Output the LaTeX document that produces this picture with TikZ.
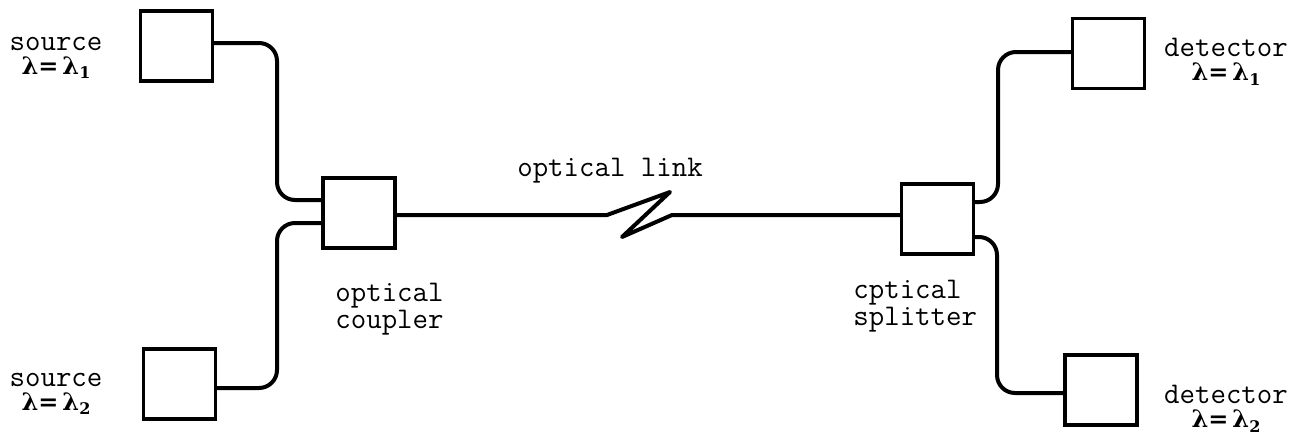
\documentclass[tikz,border=0pt]{standalone}
\usepackage{fontspec}
\newfontfamily\lamfont{DejaVu Serif}
\begin{document}
\begin{tikzpicture}[x=0.5pt,y=-0.5pt,
  blk/.style={draw,line width=1.7pt,minimum width=36pt,minimum height=35pt,inner sep=0pt},
  wire/.style={line width=2pt,rounded corners=9pt},
  lbl/.style={font=\ttfamily\fontsize{15}{12}\selectfont,inner sep=0pt,align=center},
  lbll/.style={font=\ttfamily\fontsize{15}{13.5}\selectfont,inner sep=0pt,align=left}]
\useasboundingbox (0,0) rectangle (1316,440);
\newcommand{\lamone}{{\lamfont\bfseries\fontsize{12}{12}\selectfont λ=\,λ\raisebox{-0.35ex}{\fontsize{8}{8}\selectfont 1}}}
\newcommand{\lamtwo}{{\lamfont\bfseries\fontsize{12}{12}\selectfont λ=\,λ\raisebox{-0.35ex}{\fontsize{8}{8}\selectfont 2}}}
% boxes
\node[blk] (s1) at (176.5,46) {};
\node[blk] (s2) at (179.5,384) {};
\node[blk] (cp) at (359,213) {};
\node[blk] (sp) at (937.5,219) {};
\node[blk] (d1) at (1108.5,53.5) {};
\node[blk] (d2) at (1101,390) {};
% wires
\draw[wire] (s1.east |- 0,43) -- (277,43) -- (277,200) -- (cp.west |- 0,200);
\draw[wire] (s2.east |- 0,388) -- (277,388) -- (277,223) -- (cp.west |- 0,223);
\coordinate (z1) at (607,215);
\coordinate (z2) at (670,192);
\coordinate (z3) at (622,237);
\coordinate (z4) at (672,215);
\draw[line width=2pt,line join=round] (cp.east |- 0,215) -- (z1) -- (z2) -- (z3) -- (z4) -- (sp.west |- 0,215);
\draw[wire] (sp.east |- 0,202) -- (998,202) -- (998,52) -- (d1.west |- 0,52);
\draw[wire] (sp.east |- 0,237) -- (997,237) -- (997,393) -- (d2.west |- 0,393);
% labels
\node[lbl] (ls1) at (56,58) {source\\\lamone};
\node[lbl] (ls2) at (56,394) {source\\\lamtwo};
\node[lbll,anchor=north west] (lcp) at (335,283) {optical\\coupler};
\node[lbll,anchor=north west] (lsp) at (853,280) {cptical\\splitter};
\node[lbl] (llk) at (610,171) {optical link};
\node[lbl] (ld1) at (1226,62) {detector\\\lamone};
\node[lbl] (ld2) at (1226,409) {detector\\\lamtwo};
\end{tikzpicture}
\end{document}
